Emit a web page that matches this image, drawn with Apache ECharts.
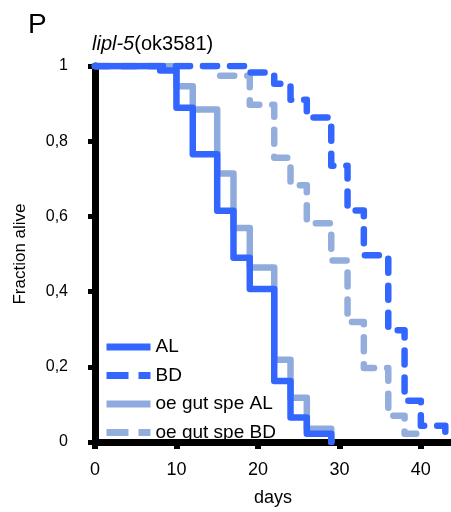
<!DOCTYPE html>
<html><head><meta charset="utf-8">
<script src="https://cdn.jsdelivr.net/npm/echarts@6/dist/echarts.min.js"></script>
<style>html,body{margin:0;padding:0;background:#fff}#c{width:451px;height:512px}</style>
</head><body><div id="c"></div>
<script>
// Scoring days (x) and surviving fraction after each day (null = series finished)
const days        = [0, 8, 10, 12, 15, 17, 19, 22, 24, 26, 29, 31, 33, 36, 38, 40, 43];
const alValues    = [1, 0.988, 0.889, 0.765, 0.615, 0.490, 0.407, 0.162, 0.065, 0.022, 0, null, null, null, null, null, null];
const bdValues    = [1, 1, 1, 1, 1, 1, 0.983, 0.953, 0.910, 0.863, 0.735, 0.616, 0.497, 0.297, 0.110, 0.043, 0];
const oeAlValues  = [1, 1, 0.946, 0.884, 0.714, 0.569, 0.464, 0.219, 0.118, 0.035, 0, null, null, null, null, null, null];
const oeBdValues  = [1, 1, 1, 1, 0.974, 0.974, 0.897, 0.756, 0.683, 0.582, 0.483, 0.319, 0.197, 0.070, 0.022, 0, null];
const seriesNames = ['AL', 'BD', 'oe gut spe AL', 'oe gut spe BD'];
const xTicks = [0, 10, 20, 30, 40];

const BRIGHT = '#3366FF', LIGHT = '#8FAADC', LIGHT2 = '#93ADDD';
const FONT = 'Liberation Sans';

function toData(vals) {
  return days.map((d, i) => [d, vals[i]]).filter(p => p[1] !== null);
}
function mk(name, vals, color, dashed, z) {
  return {
    name, type: 'line', step: 'end', data: toData(vals), symbol: 'none', z,
    lineStyle: { color, width: 6.5, type: dashed ? [14, 13] : 'solid', cap: 'round', join: 'round' },
    itemStyle: { color },
    emphasis: { disabled: true }, animation: false
  };
}

const chart = echarts.init(document.getElementById('c'), null, { renderer: 'canvas' });
chart.setOption({
  animation: false,
  backgroundColor: '#fff',
  title: [
    { text: 'P', left: 23, top: 6, textStyle: { fontFamily: FONT, fontSize: 28, fontWeight: 'normal', color: '#000' } },
    { text: '{i|lipl-5}{n|(ok3581)}', left: 87, top: 29,
      textStyle: { fontWeight: 'normal', rich: {
        i: { fontFamily: FONT, fontSize: 20, fontStyle: 'italic', fontWeight: 'normal', color: '#000' },
        n: { fontFamily: FONT, fontSize: 20, fontWeight: 'normal', color: '#000' } } } }
  ],
  grid: { left: 95, right: 0, top: 66, bottom: 65.5, containLabel: false },
  xAxis: {
    type: 'value', min: 0, max: 43.7, interval: 10,
    name: 'days', nameLocation: 'middle', nameGap: 47,
    nameTextStyle: { fontFamily: FONT, fontSize: 18, color: '#000' },
    axisLine: { show: true, lineStyle: { color: '#000', width: 7 } },
    axisTick: { show: true, length: 7, lineStyle: { color: '#000', width: 6 }, customValues: xTicks },
    axisLabel: { fontFamily: FONT, fontSize: 18, color: '#000', margin: 19, customValues: xTicks },
    splitLine: { show: false }
  },
  yAxis: {
    type: 'value', min: 0, max: 1, interval: 0.2,
    name: 'Fraction alive', nameLocation: 'middle', nameGap: 66, nameRotate: 90,
    nameTextStyle: { fontFamily: FONT, fontSize: 17, color: '#000' },
    axisLine: { show: true, lineStyle: { color: '#000', width: 7 } },
    axisTick: { show: true, length: 7, lineStyle: { color: '#000', width: 5 } },
    axisLabel: { fontFamily: FONT, fontSize: 16, color: '#000', margin: 27,
      formatter: v => (Math.abs(v) < 1e-9 ? '0' : Math.abs(v - 1) < 1e-9 ? '1' : v.toFixed(1).replace('.', ',')) },
    splitLine: { show: false }
  },
  legend: {
    orient: 'vertical', left: 98, top: 332, itemWidth: 44, itemHeight: 14, itemGap: 8.5,
    textStyle: { fontFamily: FONT, fontSize: 19, color: '#000', lineHeight: 20 },
    lineStyle: { cap: 'butt', width: 7 },
    itemStyle: { opacity: 0 },
    selectedMode: false,
    data: [
      { name: seriesNames[0] },
      { name: seriesNames[1], lineStyle: { type: [22, 10], cap: 'butt' } },
      { name: seriesNames[2] },
      { name: seriesNames[3], lineStyle: { type: [22, 10], cap: 'butt' } }
    ]
  },
  series: [
    mk(seriesNames[0], alValues, BRIGHT, false, 4),
    mk(seriesNames[1], bdValues, BRIGHT, true, 4),
    mk(seriesNames[2], oeAlValues, LIGHT, false, 3),
    mk(seriesNames[3], oeBdValues, LIGHT2, true, 3)
  ]
});
</script></body></html>
